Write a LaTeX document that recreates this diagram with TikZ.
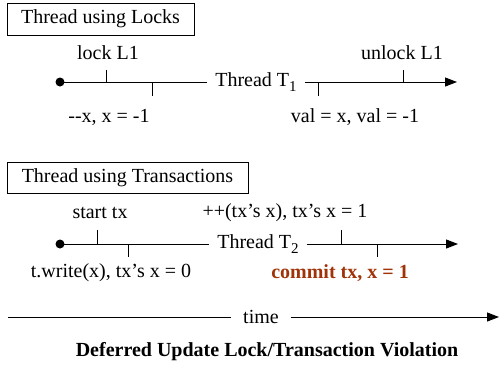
\documentclass[tikz,border=0pt]{standalone}
\usepackage{fontspec}
\setmainfont{Liberation Serif}
\usetikzlibrary{arrows.meta}
\definecolor{commitbrown}{RGB}{160,52,8}
\newcommand{\lowsub}[1]{\raisebox{-5pt}{\fontsize{15}{15}\selectfont #1}}
\tikzset{
  titlebox/.style={draw, line width=0.8pt, inner sep=0pt},
  threadline/.style={line width=1pt},
  tickmark/.style={line width=1pt},
  arrowline/.style={line width=1pt, -{Triangle[length=12pt,width=9pt]}},
  startdot/.style={circle, fill, inner sep=0pt, minimum size=9pt},
  threadlbl/.style={inner xsep=8pt, inner ysep=0pt},
  lbl/.style={inner sep=0pt},
  commitlbl/.style={inner sep=0pt, text=commitbrown, font=\fontsize{20}{24}\selectfont\bfseries},
}
\begin{document}
\begin{tikzpicture}[x=1pt, y=-1pt, font=\fontsize{20}{24}\selectfont]
\useasboundingbox (0,0) rectangle (500,368);

% --- lock-based thread ---
\node[titlebox, minimum width=187pt, minimum height=32pt] (boxL) at (100.5,19) {Thread using Locks};
\node[startdot] (d1) at (60,82) {};
\node[threadlbl] (t1) at (256,82) {Thread T\lowsub{1}};
\coordinate (e1) at (457,82);
\draw[threadline] (d1.center) -- (t1.west);
\draw[arrowline] (t1.east) -- (e1);
\draw[tickmark] (106,82) -- (106,70);
\draw[tickmark] (152,82) -- (152,96);
\draw[tickmark] (318,82) -- (318,96);
\draw[tickmark] (403,82) -- (403,70);
\node[lbl] (lk) at (108,53) {lock L1};
\node[lbl] (dec) at (109,117) {-{}-x, x = -1};
\node[lbl] (ulk) at (402,53) {unlock L1};
\node[lbl] (val) at (355,117) {val = x, val = -1};

% --- transaction-based thread ---
\node[titlebox, minimum width=241pt, minimum height=31pt] (boxT) at (127.5,177.5) {Thread using Transactions};
\node[startdot] (d2) at (60,244) {};
\node[threadlbl] (t2) at (258,244) {Thread T\lowsub{2}};
\coordinate (e2) at (458,244);
\draw[threadline] (d2.center) -- (t2.west);
\draw[arrowline] (t2.east) -- (e2);
\draw[tickmark] (97,244) -- (97,230);
\draw[tickmark] (128,244) -- (128,257);
\draw[tickmark] (341,244) -- (341,230);
\draw[tickmark] (377,244) -- (377,257);
\node[lbl] (stx) at (100,213) {start tx};
\node[lbl] (inc) at (285,213) {++(tx’s x), tx’s x = 1};
\node[lbl] (wr) at (111,273) {t.write(x), tx’s x = 0};
\node[commitlbl] (cm) at (340,273) {commit tx, x = 1};

% --- time axis and caption ---
\coordinate (ts) at (8,317);
\coordinate (te) at (499,317);
\node[threadlbl, inner xsep=12pt] (time) at (261,317) {time};
\draw[threadline] (ts) -- (time.west);
\draw[arrowline] (time.east) -- (te);
\node[lbl, font=\fontsize{20}{24}\selectfont\bfseries] (cap) at (267,352) {Deferred Update Lock/Transaction Violation};
\end{tikzpicture}
\end{document}
